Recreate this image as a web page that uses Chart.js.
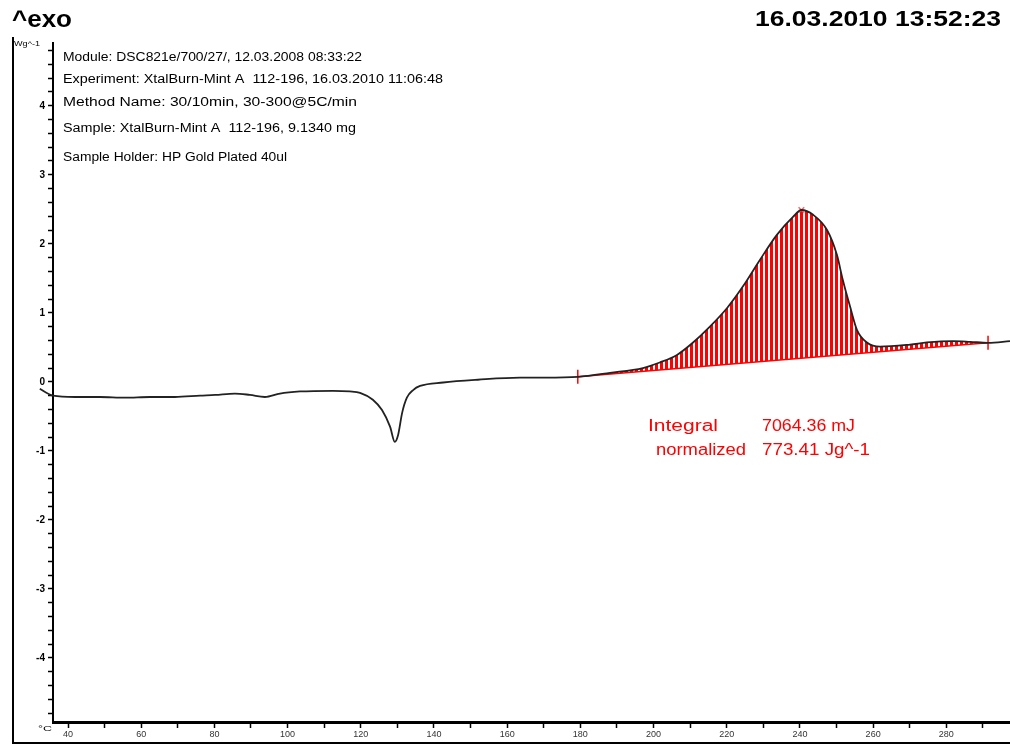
<!DOCTYPE html>
<html>
<head>
<meta charset="utf-8">
<script src="https://cdn.jsdelivr.net/npm/chart.js"></script>
<style>
  body { margin: 0; background: #fff; }
  canvas { display: block; }
</style>
</head>
<body>
<canvas id="dscChart" width="1010" height="744"></canvas>
<script>
// DSC curve, temperature (°C) vs heat flow (Wg^-1)
const curveT = [29.6, 32.3, 35.9, 41.9, 48.7, 55.6, 62.4, 69.2, 76.1, 80.2, 85.6, 89.7, 93.8, 97.9,
  103.4, 112.4, 117.0, 119.8, 123.3, 125.8, 128.0, 129.3, 130.2, 131.3, 132.6, 134.3, 136.2,
  142.5, 152.0, 163.5, 170.3, 179.3, 188.1, 197.1, 201.7, 206.4, 210.8, 215.4, 220.1, 224.4,
  229.1, 233.7, 238.1, 240.4, 243.6, 247.4, 250.1, 251.7, 253.7, 255.6, 258.3, 261.9, 270.1,
  274.7, 281.8, 286.5, 291.4, 297.4];
const curveV = [0.00, -0.10, -0.20, -0.22, -0.22, -0.23, -0.22, -0.22, -0.20, -0.19, -0.17, -0.19, -0.22, -0.17,
  -0.14, -0.13, -0.14, -0.16, -0.26, -0.41, -0.65, -0.87, -0.77, -0.45, -0.23, -0.12, -0.06,
  -0.01, 0.03, 0.06, 0.06, 0.072, 0.13, 0.20, 0.28, 0.39, 0.57, 0.80, 1.07, 1.38,
  1.77, 2.13, 2.39, 2.49, 2.42, 2.20, 1.84, 1.48, 1.09, 0.75, 0.57, 0.51, 0.54,
  0.57, 0.59, 0.58, 0.565, 0.59];

// integration baseline and peak marker
const baseT = [179.3, 291.4];
const baseV = [0.072, 0.565];
const peakT = [240.4];
const peakV = [2.49];

// axes
const xMajor = [40, 60, 80, 100, 120, 140, 160, 180, 200, 220, 240, 260, 280];
const yMajor = [-4, -3, -2, -1, 0, 1, 2, 3, 4];
const xMin = 35.9, xMax = 297.4;
const yMin = -4.93, yMax = 4.91;

const headerLines = [
  "Module: DSC821e/700/27/, 12.03.2008 08:33:22",
  "Experiment: XtalBurn-Mint A  112-196, 16.03.2010 11:06:48",
  "Method Name: 30/10min, 30-300@5C/min",
  "Sample: XtalBurn-Mint A  112-196, 9.1340 mg",
  "Sample Holder: HP Gold Plated 40ul"
];

const curve = curveT.map((t, i) => ({ x: t, y: curveV[i] }));
const peakArea = curve.filter(p => p.x >= baseT[0] && p.x <= baseT[1]);

// vertical red hatching for the integrated area
const pc = document.createElement("canvas");
pc.width = 5; pc.height = 4;
const pctx = pc.getContext("2d");
pctx.fillStyle = "#ff0000";
pctx.fillRect(0, 0, 3, 4);
const hatch = pctx.createPattern(pc, "repeat");

function fitText(ctx, str, x, y, w, font, color) {
  ctx.save();
  ctx.font = font;
  const m = ctx.measureText(str).width;
  ctx.translate(x, y);
  ctx.scale(w / m, 1);
  ctx.fillStyle = color;
  ctx.textBaseline = "alphabetic";
  ctx.fillText(str, 0, 0);
  ctx.restore();
}

const decorations = {
  id: "decorations",
  afterDraw(chart) {
    const ctx = chart.ctx;
    ctx.save();
    ctx.strokeStyle = "#000";
    ctx.lineWidth = 2;
    ctx.beginPath();
    ctx.moveTo(13, 37);
    ctx.lineTo(13, 743);
    ctx.lineTo(1010, 743);
    ctx.stroke();

    fitText(ctx, "^exo", 12, 27, 60, "bold 24px 'Liberation Sans'", "#000");
    fitText(ctx, "16.03.2010 13:52:23", 755, 26, 246, "bold 22px 'Liberation Sans'", "#000");

    const ys = [61, 83, 106, 132, 161];
    const ws = [299, 380, 294, 293, 224];
    headerLines.forEach((s, i) => fitText(ctx, s, 63, ys[i], ws[i], "12px 'Liberation Sans'", "#000"));

    fitText(ctx, "Wg^-1", 14, 46, 26, "8px 'Liberation Sans'", "#000");
    fitText(ctx, "°C", 38, 731, 14, "8px 'Liberation Sans'", "#000");

    fitText(ctx, "Integral", 648, 431, 70, "16px 'Liberation Sans'", "#ff0000");
    fitText(ctx, "7064.36 mJ", 762, 431, 93, "16px 'Liberation Sans'", "#ff0000");
    fitText(ctx, "normalized", 656, 455, 90, "16px 'Liberation Sans'", "#ff0000");
    fitText(ctx, "773.41 Jg^-1", 762, 455, 108, "16px 'Liberation Sans'", "#ff0000");
    ctx.restore();
  }
};

new Chart(document.getElementById("dscChart"), {
  type: "line",
  data: {
    datasets: [
      {
        data: curve,
        borderColor: "#222",
        borderWidth: 1.8,
        pointRadius: 0,
        cubicInterpolationMode: "monotone",
        clip: false,
        fill: false,
        order: 0
      },
      {
        data: peakArea,
        borderWidth: 0,
        pointRadius: 0,
        cubicInterpolationMode: "monotone",
        backgroundColor: hatch,
        fill: { target: 2 },
        order: 3
      },
      {
        data: baseT.map((t, i) => ({ x: t, y: baseV[i] })),
        borderColor: "#ff0000",
        borderWidth: 1.5,
        pointStyle: "line",
        rotation: 90,
        pointRadius: 7,
        pointBorderColor: "#ff0000",
        pointBorderWidth: 1.5,
        fill: false,
        order: 1
      },
      {
        data: peakT.map((t, i) => ({ x: t, y: peakV[i] })),
        showLine: false,
        pointStyle: "crossRot",
        pointRadius: 4,
        pointBorderColor: "#ff6666",
        pointBorderWidth: 1.5,
        order: 1
      }
    ]
  },
  options: {
    responsive: false,
    devicePixelRatio: 1,
    animation: false,
    layout: { autoPadding: false, padding: { top: 43, left: 0, right: 0, bottom: 0 } },
    plugins: { legend: { display: false }, tooltip: { enabled: false } },
    scales: {
      x: {
        type: "linear",
        min: xMin,
        max: xMax,
        afterFit(scale) {
          scale.height = 22;
          scale.paddingLeft = 0;
          scale.paddingRight = 0;
        },
        afterBuildTicks(scale) {
          const ticks = [];
          xMajor.forEach(v => { ticks.push({ value: v }); ticks.push({ value: v + 10 }); });
          scale.ticks = ticks;
        },
        ticks: {
          autoSkip: false,
          maxRotation: 0,
          padding: 1,
          color: "#333",
          font: { family: "Liberation Sans", size: 9 },
          callback: v => (xMajor.includes(v) ? String(v) : "")
        },
        grid: { drawOnChartArea: false, drawTicks: true, tickLength: 6, color: "#000", tickWidth: 1.5 },
        border: { display: true, color: "#000", width: 3 }
      },
      y: {
        type: "linear",
        min: yMin,
        max: yMax,
        afterFit(scale) {
          scale.width = 53;
          scale.paddingTop = 0;
          scale.paddingBottom = 0;
        },
        afterBuildTicks(scale) {
          const ticks = [];
          [-5].concat(yMajor).forEach(v => {
            if (v !== -5) ticks.push({ value: v });
            for (let k = 1; k <= 4; k++) {
              const m = Math.round((v + k * 0.2) * 10) / 10;
              if (m < yMax) ticks.push({ value: m });
            }
          });
          scale.ticks = ticks;
        },
        ticks: {
          autoSkip: false,
          padding: 3,
          color: "#000",
          font: { family: "Liberation Sans", size: 10, weight: "bold" },
          callback: v => (yMajor.includes(v) ? String(v) : "")
        },
        grid: { drawOnChartArea: false, drawTicks: true, tickLength: 5, color: "#000", tickWidth: 1.5 },
        border: { display: true, color: "#000", width: 2 }
      }
    }
  },
  plugins: [decorations]
});
</script>
</body>
</html>
